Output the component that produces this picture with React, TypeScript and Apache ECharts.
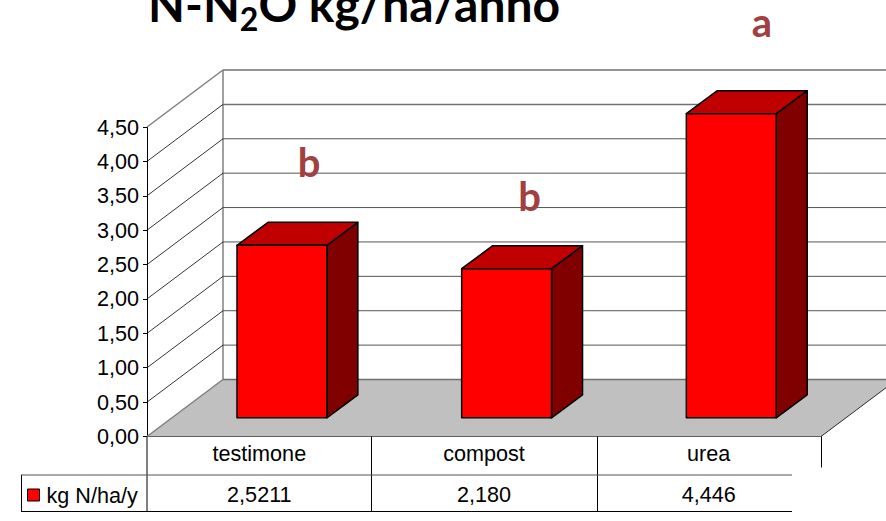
import React, { useEffect, useRef } from "react";
import * as echarts from "echarts";

const categories = ["testimone", "compost", "urea"];
const barValues = [2.5211, 2.18, 4.446];
const tableLabels = ["2,5211", "2,180", "4,446"];
const tickValues = [0, 0.5, 1, 1.5, 2, 2.5, 3, 3.5, 4, 4.5];
const seriesName = "kg N/ha/y";

const SANS = "'Liberation Sans', Arial, sans-serif";
const WALL_DX = 76;
const WALL_DY = -57;
const BAR_DX = 22.6;
const BAR_DY = -18.7;
const DEPTH_DX = 31;
const DEPTH_DY = -23;
const RIGHT_EDGE = 886;
const LABEL_SIZE = 21.6;

const tableLine = (x1: number, y1: number, x2: number, y2: number, stroke = "#000", lineWidth = 1) => ({
  type: "line",
  silent: true,
  shape: { x1, y1, x2, y2 },
  style: { stroke, lineWidth },
  z: 5,
});

const letter = (text: string, x: number, y: number) => ({
  type: "text",
  silent: true,
  x,
  y,
  z: 10,
  style: {
    text,
    fill: "#a04040",
    font: "bold 40px Lato, sans-serif",
    textAlign: "center",
    textVerticalAlign: "middle",
  },
});

function renderWalls(_params: any, api: any) {
  const value = api.value(0);
  const [fx, fy] = api.coord([0, value]);
  const [x0] = [fx - api.size([1, 0])[0] / 2];
  const x1 = x0 + WALL_DX;
  const y1 = fy + WALL_DY;
  const children: any[] = [];
  if (value === 0) {
    const xRight = x0 + api.size([1, 0])[0] * categories.length;
    children.push({
      type: "polygon",
      shape: {
        points: [
          [x0, fy],
          [x1, y1],
          [xRight + WALL_DX, y1],
          [xRight, fy],
        ],
      },
      style: { fill: "#c0c0c0", stroke: "none" },
    });
    children.push({
      type: "line",
      shape: { x1: xRight, y1: fy, x2: xRight + WALL_DX, y2: y1 },
      style: { stroke: "#000", lineWidth: 0.8 },
    });
    children.push({
      type: "line",
      shape: { x1: x1, y1: y1, x2: x1, y2: api.coord([0, tickValues[tickValues.length - 1]])[1] + WALL_DY },
      style: { stroke: "#808080", lineWidth: 1.5 },
    });
  }
  const top = value === tickValues[tickValues.length - 1];
  const edge = top || value === 0 ? "#808080" : "#000";
  children.push({
    type: "line",
    shape: { x1: x0, y1: fy, x2: x1, y2: y1 },
    style: { stroke: edge, lineWidth: top || value === 0 ? 1.5 : 0.8 },
  });
  children.push({
    type: "line",
    shape: { x1: x1, y1: y1, x2: RIGHT_EDGE, y2: y1 },
    style: { stroke: value >= 4 || value === 0 ? "#707070" : "#555", lineWidth: value >= 4 || value === 0 ? 1.5 : 1 },
  });
  return { type: "group", children };
}

function renderBars(_params: any, api: any) {
  const i = api.value(0);
  const v = api.value(1);
  const [cx, by0] = api.coord([i, 0]);
  const [, ty0] = api.coord([i, v]);
  const w = api.size([1, 0])[0] * 0.4;
  const l = cx + BAR_DX - w / 2;
  const r = l + w;
  const b = by0 + BAR_DY;
  const t = ty0 + BAR_DY;
  const line = { stroke: "#000", lineWidth: 1.5, lineJoin: "round" };
  return {
    type: "group",
    children: [
      {
        type: "polygon",
        shape: { points: [[r, t], [r + DEPTH_DX, t + DEPTH_DY], [r + DEPTH_DX, b + DEPTH_DY], [r, b]] },
        style: { fill: "#800000", ...line },
      },
      {
        type: "polygon",
        shape: { points: [[l, t], [l + DEPTH_DX, t + DEPTH_DY], [r + DEPTH_DX, t + DEPTH_DY], [r, t]] },
        style: { fill: "#c00000", ...line },
      },
      {
        type: "rect",
        shape: { x: l, y: t, width: w, height: b - t },
        style: { fill: "#ff0000", ...line },
      },
      {
        type: "text",
        x: cx,
        y: 494,
        style: {
          text: tableLabels[i],
          fill: "#000",
          font: `${LABEL_SIZE}px ${SANS}`,
          textAlign: "center",
          textVerticalAlign: "middle",
        },
      },
    ],
  };
}

export default function App() {
  const ref = useRef<HTMLDivElement>(null);
  useEffect(() => {
    const chart = echarts.init(ref.current!, undefined, { renderer: "svg" });
    chart.setOption({
      animation: false,
      backgroundColor: "#fff",
      textStyle: { fontFamily: SANS },
      title: {
        left: 148,
        top: -25,
        padding: 0,
        text: "{a|N-N}{s|2}{a|O kg/ha/anno}",
        textStyle: {
          rich: {
            a: { fontFamily: "Lato, sans-serif", fontWeight: "bold", fontSize: 48, color: "#000", lineHeight: 56 },
            s: {
              fontFamily: "Lato, sans-serif",
              fontWeight: "bold",
              fontSize: 32,
              color: "#000",
              lineHeight: 56,
              padding: [30, 0, 0, 0],
            },
          },
        },
      },
      legend: {
        show: true,
        left: 27,
        top: 484,
        padding: 0,
        itemWidth: 12,
        itemHeight: 12,
        itemGap: 0,
        selectedMode: false,
        data: [
          {
            name: seriesName,
            icon: "rect",
            itemStyle: { color: "#ff0000", borderColor: "#000", borderWidth: 1 },
            textStyle: { fontSize: LABEL_SIZE, color: "#000", fontFamily: SANS, padding: [0, 0, 0, 2] },
          },
        ],
      },
      grid: { left: 147, top: 127, width: 674, height: 309.5 },
      xAxis: {
        type: "category",
        data: categories,
        axisLine: { show: true, lineStyle: { color: "#000", width: 1 } },
        axisTick: { show: false },
        axisLabel: { color: "#000", fontSize: LABEL_SIZE, fontFamily: SANS, margin: 6 },
        splitLine: { show: false },
      },
      yAxis: [
        {
          type: "value",
          min: 0,
          max: 4.5,
          interval: 0.5,
          axisLine: { show: true, lineStyle: { color: "#000", width: 1 } },
          axisTick: { show: true, length: 4, lineStyle: { color: "#000" } },
          axisLabel: {
            color: "#000",
            fontSize: LABEL_SIZE,
            fontFamily: SANS,
            margin: 8,
            formatter: (v: number) => v.toFixed(2).replace(".", ","),
          },
          splitLine: { show: false },
        },
        { type: "value", min: 0, max: 4.525, show: false, splitLine: { show: false } },
      ],
      series: [
        {
          type: "custom",
          name: "walls",
          silent: true,
          z: 1,
          clip: false,
          renderItem: renderWalls,
          encode: { y: 0 },
          data: tickValues.map((v) => [v]),
        },
        {
          type: "custom",
          name: seriesName,
          silent: true,
          z: 3,
          clip: false,
          yAxisIndex: 1,
          itemStyle: { color: "#ff0000" },
          renderItem: renderBars,
          encode: { x: 0, y: 1 },
          data: barValues.map((v, i) => [i, v]),
        },
      ],
      graphic: [
        letter("b", 309, 162),
        letter("b", 529.5, 196),
        letter("a", 762, 22),
        tableLine(147, 436.5, 147, 512),
        tableLine(371.5, 436.5, 371.5, 512),
        tableLine(597.5, 436.5, 597.5, 512),
        tableLine(821.5, 436.5, 821.5, 467.5),
        tableLine(21, 475, 792, 475, "#555", 1.2),
        tableLine(21, 511.5, 792, 511.5),
        tableLine(21.5, 475, 21.5, 512),
      ],
    });
    return () => chart.dispose();
  }, []);
  return <div ref={ref} style={{ position: "absolute", left: 0, top: 0, width: 886, height: 521 }} />;
}
